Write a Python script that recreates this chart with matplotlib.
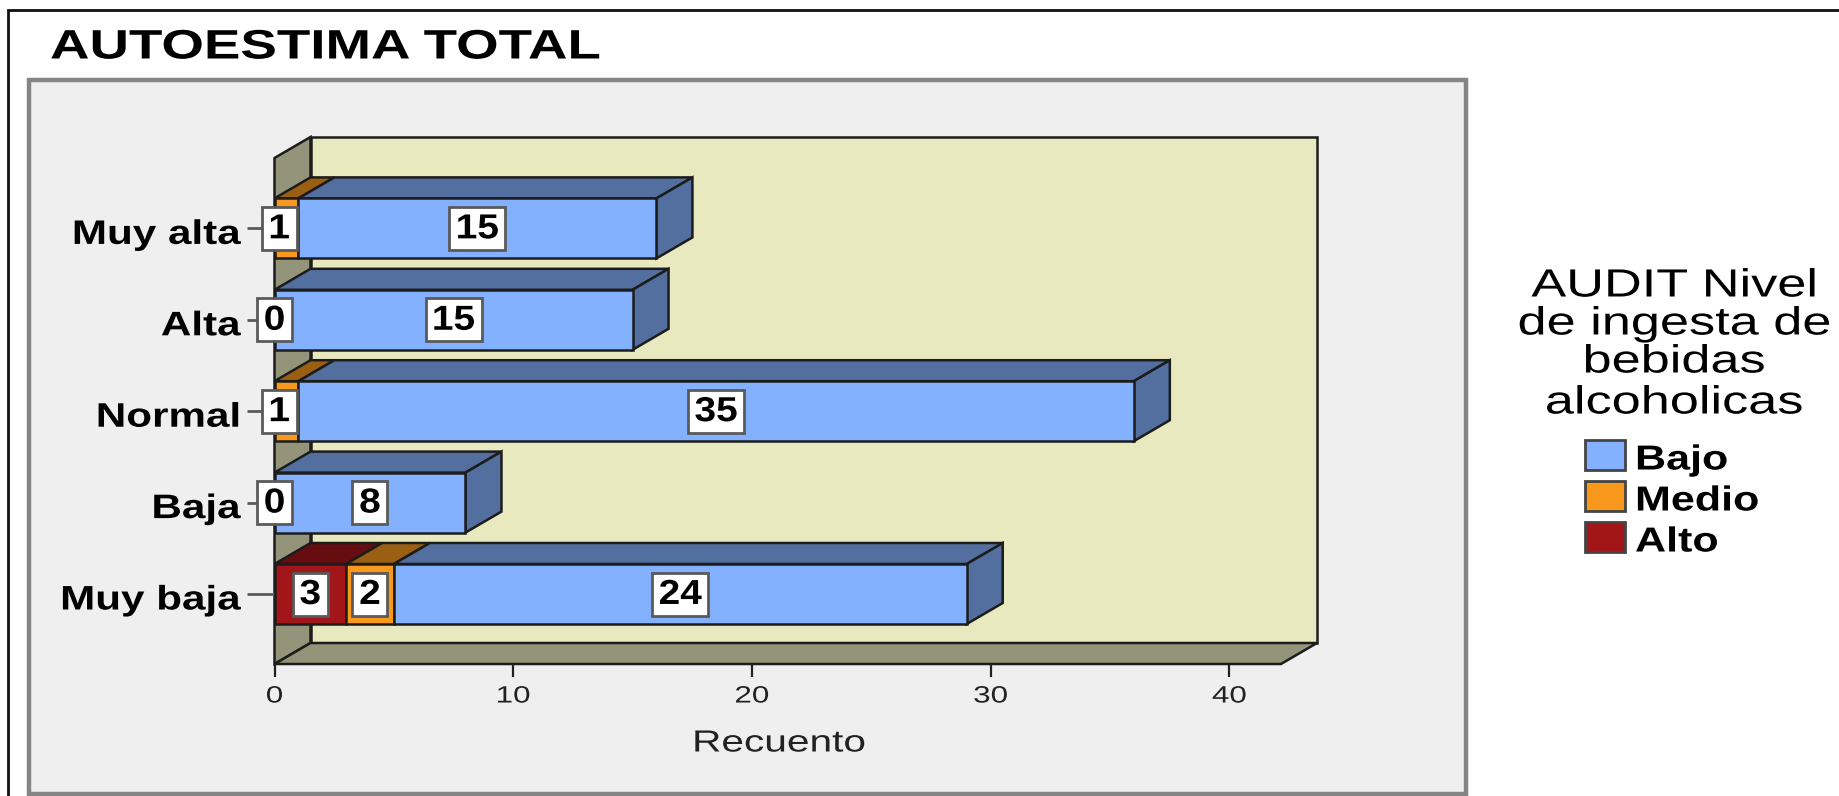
import matplotlib
matplotlib.use("Agg")
import matplotlib.pyplot as plt
from matplotlib.patches import Polygon, Rectangle
from matplotlib.patheffects import AbstractPathEffect
from matplotlib.transforms import Affine2D, ScaledTranslation

plt.rcParams['font.family'] = ['Liberation Sans', 'DejaVu Sans']

W, H = 1839, 796

# ---------- data ----------
categories = ["Muy baja", "Baja", "Normal", "Alta", "Muy alta"]
alto = [3, 0, 0, 0, 0]
medio = [2, 0, 1, 0, 1]
bajo = [24, 8, 35, 15, 15]
x_ticks = [0, 10, 20, 30, 40]
title = "AUTOESTIMA TOTAL"
x_label = "Recuento"
legend_title = ["AUDIT Nivel", "de ingesta de", "bebidas", "alcoholicas"]
legend_labels = ["Bajo", "Medio", "Alto"]

# ---------- style ----------
C_FRONT = {"Bajo": "#84B1FE", "Medio": "#F8981D", "Alto": "#A21519"}
C_SHADE = {"Bajo": "#526FA0", "Medio": "#9A5F12", "Alto": "#650D10"}
WALL, SIDE = "#E9E9C0", "#94947A"
EDGE = "#1c1c1c"
SX = 1.33


class Stretch(AbstractPathEffect):
    """Widens glyphs horizontally, as in the stretched source image."""
    def __init__(self, sx=SX, anchor="center"):
        super().__init__()
        self.sx, self.anchor = sx, anchor

    def draw_path(self, renderer, gc, tpath, affine, rgbFace=None):
        bb = tpath.get_extents()
        c = {"left": 0.0, "center": (bb.x0 + bb.x1) / 2, "right": bb.x1}[self.anchor]
        t = Affine2D().translate(-c, 0).scale(self.sx, 1).translate(c, 0)
        renderer.draw_path(gc, tpath, t + affine, rgbFace)


fig = plt.figure(figsize=(W / 100, H / 100), dpi=100, facecolor="white")


def fx(px):
    return px / W


def fy(py):
    return 1 - py / H


def ftext(px, py, s, size, weight="normal", ha="center", color="black", sx=SX):
    t = fig.text(fx(px), fy(py), s, fontsize=size, fontweight=weight, ha=ha,
                 va="center", color=color)
    t.set_path_effects([Stretch(sx=sx, anchor=ha)])
    return t


# outer frame and grey panel
fig.add_artist(Rectangle((fx(8), fy(H + 10)), fx(W + 20), (H) / H, fill=False,
                         ec="#111111", lw=2, transform=fig.transFigure, zorder=-2))
fig.add_artist(Rectangle((fx(29), fy(794)), fx(1466 - 29), (794 - 80) / H, fc="#EFEFEF",
                         ec="#858585", lw=3.2, transform=fig.transFigure, zorder=-1))

ftext(50, 47.5, title, 29.6, "bold", ha="left")

# ---------- plot ----------
ax = fig.add_axes([fx(274.5), fy(664), fx(1281 - 274.5), (664 - 158) / H], zorder=2)
PX_X, PX_Y = 23.87, 91.4
XMAX = (1281 - 274.5) / PX_X
Y_LO, Y_HI = -70 / PX_Y, (594 - 158) / PX_Y
DX, DY = 36 / PX_X, 21 / PX_Y
BAR_H = 60 / PX_Y
ax.set_xlim(0, XMAX)
ax.set_ylim(Y_LO, Y_HI)
ax.patch.set_visible(False)
for s in ax.spines.values():
    s.set_visible(False)


def poly(pts, fc, z, lw=1.8):
    ax.add_patch(Polygon(pts, closed=True, fc=fc, ec=EDGE, lw=lw, zorder=z,
                         clip_on=False, joinstyle="miter"))


# walls
poly([(DX, Y_LO + DY), (XMAX + DX, Y_LO + DY), (XMAX + DX, Y_HI + DY), (DX, Y_HI + DY)], WALL, 1)
poly([(0, Y_LO), (DX, Y_LO + DY), (DX, Y_HI + DY), (0, Y_HI)], SIDE, 1.1)
poly([(0, Y_LO), (XMAX, Y_LO), (XMAX + DX, Y_LO + DY), (DX, Y_LO + DY)], SIDE, 1.2)

BOX_W1, BOX_W2, BOX_H = 35 / PX_X, 56 / PX_X, 43 / PX_Y
AXIS_NUDGE = 0.3   # labels of a one-unit segment on the axis sit closer to it
labels = []
for i in range(len(categories)):
    y0, y1 = i - BAR_H / 2, i + BAR_H / 2
    z = 3 + (len(categories) - i)
    start = 0
    for name, vals in (("Alto", alto), ("Medio", medio), ("Bajo", bajo)):
        v = vals[i]
        end = start + v
        if v > 0:
            poly([(start, y1), (start + DX, y1 + DY), (end + DX, y1 + DY), (end, y1)],
                 C_SHADE[name], z)
            if name == "Bajo":
                poly([(end, y0), (end + DX, y0 + DY), (end + DX, y1 + DY), (end, y1)],
                     C_SHADE[name], z)
            ax.add_patch(Rectangle((start, y0), v, BAR_H, fc=C_FRONT[name], ec=EDGE,
                                   lw=1.8, zorder=z + 0.1, clip_on=False))
        if v > 0 or name == "Medio":
            cx = (start + end) / 2
            if start == 0 and v == 1:
                cx -= AXIS_NUDGE
            labels.append((cx, i, str(v)))
        start = end

for cx, i, s in labels:
    w = BOX_W1 if len(s) == 1 else BOX_W2
    ax.add_patch(Rectangle((cx - w / 2, i - BOX_H / 2), w, BOX_H, fc="white", ec="#5a5a5a",
                           lw=2, zorder=20, clip_on=False))
    t = ax.text(cx, i - 0.005, s, fontsize=25, fontweight="bold", ha="center",
                va="center", color="black", zorder=21)
    t.set_path_effects([Stretch(sx=1.12)])

# axes
ax.set_xticks(x_ticks, [str(v) for v in x_ticks])
ax.tick_params(axis="x", length=9.5, width=1.6, color="#222222", pad=6,
               labelsize=17, labelcolor="#222222")
for t in ax.get_xticklabels():
    t.set_path_effects([Stretch()])
ax.set_yticks(range(len(categories)), categories)
ax.tick_params(axis="y", length=20, width=2, color="#5a5a5a", pad=1, labelsize=24.5)
for t in ax.get_yticklabels():
    t.set_fontweight("bold")
    t.set_path_effects([Stretch(sx=1.24, anchor="right")])
    t.set_transform(t.get_transform() + ScaledTranslation(-5 / 100, -3.5 / 100, fig.dpi_scale_trans))

ftext(779, 743.5, x_label, 22, color="#222222")

# ---------- legend ----------
for py, s in zip((286.5, 324.5, 362.5, 403.5), legend_title):
    ftext(1674, py, s, 28.3)
for py, name in zip((455, 496, 537), legend_labels):
    fig.add_artist(Rectangle((fx(1585), fy(py + 15)), fx(40), 30 / H, fc=C_FRONT[name],
                             ec="#444444", lw=2, transform=fig.transFigure, zorder=3))
for py, name in zip((460, 501, 542), legend_labels):
    ftext(1635, py, name, 25, "bold", ha="left", sx=1.24)

fig.savefig("out.png", dpi=100, facecolor="white")
